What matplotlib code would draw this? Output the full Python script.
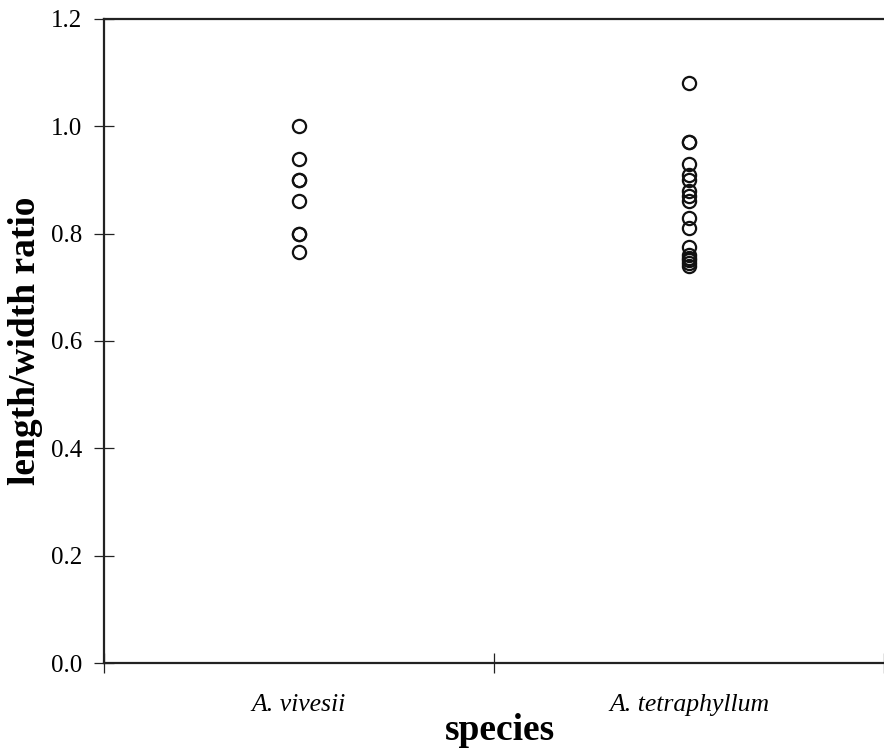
import matplotlib
matplotlib.use("Agg")
import matplotlib.pyplot as plt
import numpy as np

species = ["A. vivesii", "A. tetraphyllum"]
vivesii = [1.00, 0.94, 0.90, 0.90, 0.86, 0.80, 0.80, 0.765]
tetraphyllum = [1.08, 0.97, 0.97, 0.93, 0.91, 0.90, 0.88, 0.87, 0.86,
                0.83, 0.81, 0.775, 0.76, 0.755, 0.75, 0.745, 0.74]
yticks = [0.0, 0.2, 0.4, 0.6, 0.8, 1.0, 1.2]

plt.rcParams['font.family'] = ['Liberation Serif', 'DejaVu Serif']

fig = plt.figure(figsize=(8.84, 7.5), dpi=100)
ax = fig.add_axes([104/884, 1-663/750, 1-104/884, (663-19)/750])

positions = [0.5, 1.5]
for pos, vals in zip(positions, [vivesii, tetraphyllum]):
    ax.plot([pos]*len(vals), vals, linestyle='none', marker='o', markersize=9.5,
            markerfacecolor='none', markeredgecolor='#111111', markeredgewidth=1.6,
            clip_on=False)

ax.set_xlim(0, 2)
ax.set_ylim(0, 1.2)
ax.set_yticks(yticks)
ax.set_yticklabels([f"{v:.1f}" for v in yticks], fontsize=18)
ax.set_xticks([0, 1, 2])
ax.set_xticklabels([])
ax.set_xticks(positions, minor=True)
ax.set_xticklabels(species, minor=True, fontsize=18.5, style='italic')
ax.tick_params(axis='x', which='minor', length=0, pad=22)
ax.tick_params(axis='both', which='major', direction='inout', length=14, width=0.9, color='#222222')
ax.tick_params(axis='y', pad=8.5)

for s in ['left', 'bottom', 'top']:
    ax.spines[s].set_linewidth(1.6)
    ax.spines[s].set_color('#222222')
ax.spines['right'].set_visible(False)

ax.set_ylabel("length/width ratio", fontsize=27, fontweight='bold', labelpad=6)
ax.set_xlabel("species", fontsize=27, fontweight='bold', labelpad=-2)
ax.xaxis.label.set_x(0.5 + 6/780)

fig.savefig("out.png", dpi=100)
